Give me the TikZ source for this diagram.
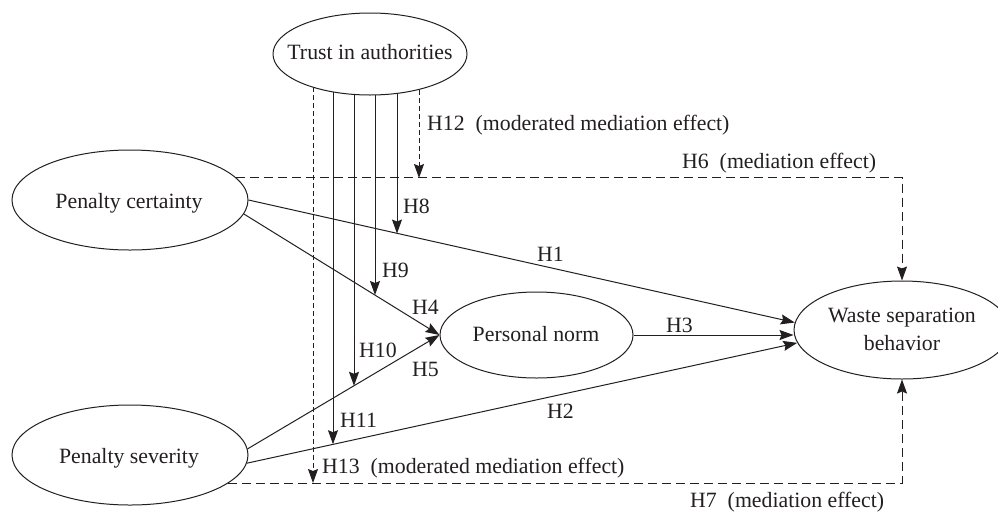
\documentclass[tikz,border=0pt]{standalone}
\usepackage{fontspec}
\setmainfont{Liberation Serif}
\usetikzlibrary{shapes.geometric,arrows.meta}
\definecolor{ink}{HTML}{231F20}
\begin{document}
\begin{tikzpicture}[x=1pt,y=-1pt,
  ell/.style={draw=ink, line width=1pt, ellipse, inner sep=0pt},
  txt/.style={font=\fontsize{21.8}{28}\selectfont, inner sep=0pt, text=ink},
  lbl/.style={txt, anchor=base west},
  conn/.style={draw=ink, line width=1pt, -{Stealth[length=14pt,width=10pt,inset=2pt]}},
  shortdash/.style={dash pattern=on 5pt off 3pt},
  longdash/.style={dash pattern=on 9pt off 5pt}]
\useasboundingbox (0,0) rectangle (998,515);
\clip (0,0) rectangle (998,515);
\fill[white] (0,0) rectangle (998,515);

% ellipses
\node[ell, minimum width=194pt, minimum height=82pt] (trust) at (370,54) {};
\node[ell, minimum width=236pt, minimum height=100pt] (pcert) at (130,200) {};
\node[ell, minimum width=236pt, minimum height=100pt] (psev) at (130,455) {};
\node[ell, minimum width=193pt, minimum height=86pt] (pnorm) at (536.5,335) {};
\node[ell, minimum width=216pt, minimum height=98pt] (waste) at (902,330) {};

% ellipse texts
\node[txt, anchor=base] (trusttxt) at (370,59) {Trust in authorities};
\node[txt, anchor=base] (pcerttxt) at (129,208) {Penalty certainty};
\node[txt, anchor=base] (psevtxt) at (129,463) {Penalty severity};
\node[txt, anchor=base] (pnormtxt) at (536,341) {Personal norm};
\node[txt, align=center] (wastetxt) at (902,329) {Waste separation\\behavior};

% direct paths
\draw[conn] (pcert.east) -- (waste.176);
\draw[conn] (psev.-4) -- (waste.187);
\draw[conn] (pnorm.east) -- (pnorm.east -| waste.west);
\draw[conn] (pcert.-7) -- (pnorm.west);
\draw[conn] (psev.3) -- (pnorm.west);

% mediation paths
\draw[conn, longdash] (pcert.12) -| (waste.north);
\draw[conn, longdash] (psev.-16) -| (waste.south);

% moderation tips
\coordinate (h12tip) at (419,178);
\coordinate (h8tip) at (397,233.5);
\coordinate (h9tip) at (375,295);
\coordinate (h10tip) at (354,385.8);
\coordinate (h11tip) at (333,444.2);
\coordinate (h13tip) at (313,483);

\draw[conn, shortdash] (h12tip |- trust.324) -- (h12tip);
\draw[conn] (h8tip |- trust.304) -- (h8tip);
\draw[conn] (h9tip |- trust.277) -- (h9tip);
\draw[conn] (h10tip |- trust.248) -- (h10tip);
\draw[conn] (h11tip |- trust.226) -- (h11tip);
\draw[conn, shortdash] (h13tip |- trust.210) -- (h13tip);

% labels
\node[lbl] (lh12) at (427,130) {H12\ \ (moderated mediation effect)};
\node[lbl] (lh6) at (682,168) {H6\ \ (mediation effect)};
\node[lbl] (lh7) at (690,507) {H7\ \ (mediation effect)};
\node[lbl] (lh13) at (322,473) {H13\ \ (moderated mediation effect)};
\node[lbl] (lh8) at (403,213) {H8};
\node[lbl] (lh1) at (537,261) {H1};
\node[lbl] (lh9) at (382,277) {H9};
\node[lbl] (lh4) at (412,314) {H4};
\node[lbl] (lh10) at (359,357) {H10};
\node[lbl] (lh5) at (412,376) {H5};
\node[lbl] (lh11) at (340,427) {H11};
\node[lbl] (lh3) at (666,332) {H3};
\node[lbl] (lh2) at (547,418) {H2};
\end{tikzpicture}
\end{document}
